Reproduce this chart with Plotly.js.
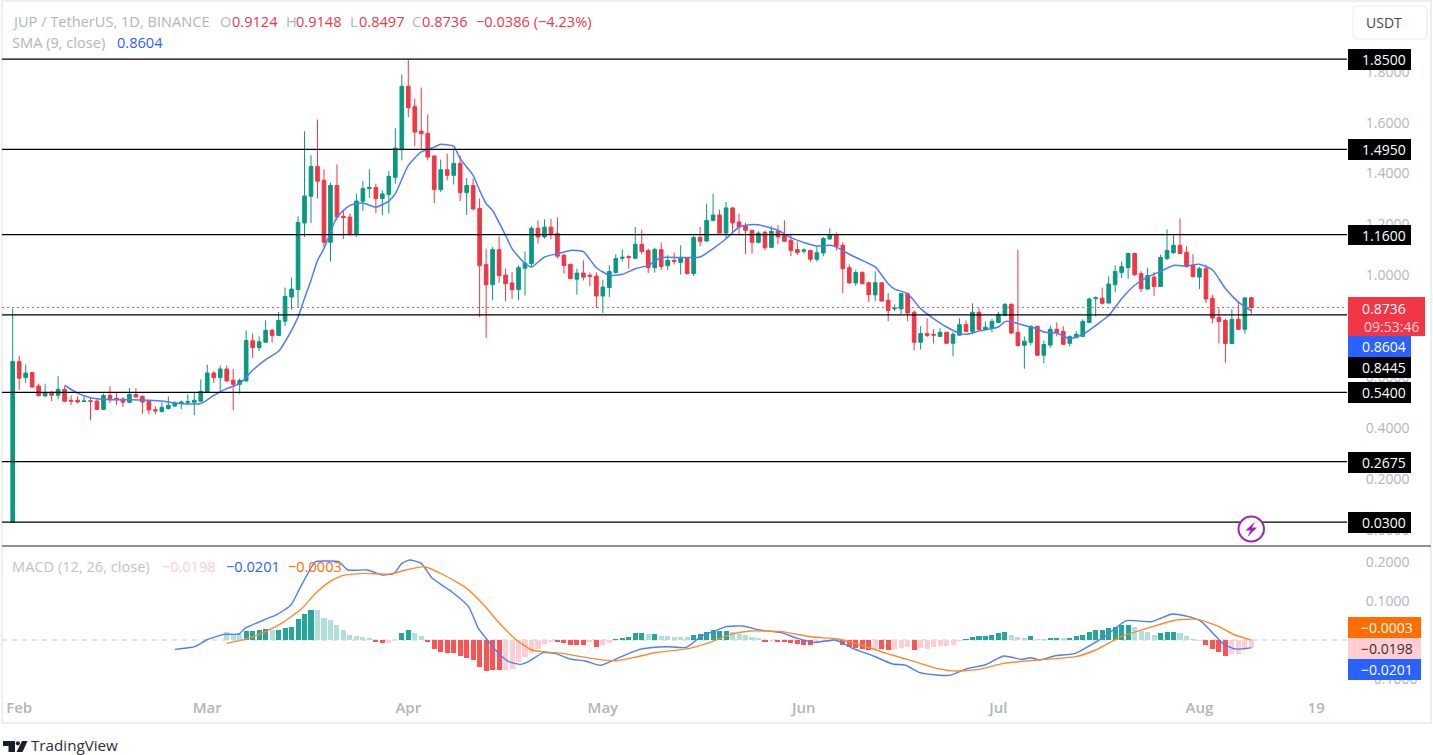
<!DOCTYPE html>
<html><head><meta charset="utf-8">
<script src="https://cdn.plot.ly/plotly-3.0.1.min.js"></script>
<style>html,body{margin:0;padding:0;background:#fff;overflow:hidden}#c{width:1433px;height:755px}</style>
</head><body><div id="c"></div>
<script>
const openP=[.03,.661,.598,.618,.565,.526,.540,.529,.552,.509,
.509,.504,.507,.506,.473,.528,.517,.514,.501,.532,
.524,.506,.472,.465,.477,.486,.497,.501,.501,.505,
.541,.616,.598,.632,.588,.572,.585,.743,.716,.737,
.784,.764,.820,.915,.944,1.206,1.311,1.428,1.373,1.130,
1.353,1.232,1.229,1.160,1.291,1.341,1.345,1.302,1.318,1.385,
1.494,1.743,1.663,1.567,1.558,1.469,1.337,1.415,1.393,1.440,
1.325,1.353,1.263,1.042,.963,1.101,1.001,.970,.944,1.028,
1.046,1.185,1.151,1.189,1.164,1.079,1.043,.985,1.009,1.000,
.997,.919,.952,1.011,1.067,1.074,1.067,1.122,1.098,1.030,
1.101,1.038,1.059,1.051,1.067,1.007,1.149,1.135,1.216,1.237,
1.166,1.265,1.210,1.195,1.177,1.130,1.169,1.110,1.173,1.156,
1.138,1.101,1.095,1.098,1.063,1.088,1.143,1.158,1.118,1.030,
.970,1.011,.971,.923,.971,.902,.868,.868,.928,.855,
.737,.771,.768,.760,.776,.733,.765,.807,.780,.855,
.787,.792,.815,.842,.886,.776,.725,.737,.800,.686,
.726,.788,.780,.733,.755,.760,.815,.908,.910,.891,
.963,1.011,1.030,1.086,1.007,.946,.993,.956,1.066,1.089,
1.118,1.090,1.040,.993,1.026,.910,.835,.823,.732,.827,
.788,.9124];
const closeP=[.661,.596,.616,.561,.527,.539,.529,.552,.505,.505,
.502,.506,.505,.473,.528,.511,.511,.501,.532,.522,
.502,.471,.467,.481,.489,.498,.502,.504,.509,.544,
.616,.598,.632,.585,.572,.587,.744,.716,.739,.784,
.764,.823,.917,.946,1.208,1.312,1.428,1.370,1.130,1.353,
1.229,1.227,1.160,1.292,1.341,1.346,1.302,1.320,1.389,1.500,
1.743,1.659,1.563,1.557,1.465,1.337,1.415,1.393,1.440,1.325,
1.353,1.261,1.038,.963,1.101,.999,.967,.944,1.030,1.048,
1.185,1.151,1.189,1.160,1.075,1.039,.987,1.009,.993,.996,
.919,.954,1.015,1.066,1.071,1.070,1.122,1.094,1.030,1.102,
1.035,1.059,1.055,1.067,1.007,1.149,1.134,1.216,1.237,1.166,
1.265,1.206,1.190,1.177,1.130,1.166,1.109,1.173,1.151,1.134,
1.098,1.090,1.100,1.063,1.089,1.145,1.158,1.114,1.026,.970,
1.011,.967,.924,.971,.899,.862,.871,.928,.852,.737,
.771,.764,.765,.776,.733,.768,.806,.779,.855,.787,
.796,.819,.847,.886,.773,.724,.741,.800,.686,.728,
.788,.776,.729,.759,.768,.819,.907,.912,.890,.966,
1.015,1.034,1.086,1.003,.948,.999,.956,1.070,1.098,1.118,
1.086,1.035,.995,1.026,.907,.832,.819,.732,.827,.788,
.911,.8736];
const highP=[.870,.684,.649,.620,.574,.574,.545,.604,.564,.528,
.524,.524,.519,.515,.535,.564,.537,.522,.557,.557,
.528,.509,.485,.502,.524,.506,.509,.532,.537,.591,
.649,.623,.645,.646,.632,.595,.784,.772,.760,.823,
.790,.856,.952,.991,1.232,1.566,1.472,1.612,1.417,1.364,
1.436,1.255,1.243,1.321,1.371,1.417,1.360,1.334,1.410,1.578,
1.790,1.848,1.695,1.738,1.632,1.472,1.455,1.478,1.494,1.470,
1.382,1.380,1.302,1.105,1.111,1.153,1.026,1.013,1.039,1.094,
1.193,1.216,1.220,1.221,1.228,1.085,1.046,1.026,1.059,1.011,
1.012,.983,1.039,1.083,1.101,1.079,1.190,1.180,1.105,1.109,
1.130,1.079,1.089,1.118,1.072,1.157,1.190,1.282,1.321,1.258,
1.288,1.268,1.243,1.206,1.180,1.173,1.177,1.193,1.197,1.216,
1.164,1.132,1.106,1.101,1.115,1.151,1.185,1.169,1.130,1.043,
1.022,1.016,.974,1.016,.972,.930,.886,.930,.933,.862,
.800,.832,.788,.792,.777,.777,.831,.823,.890,.870,
.819,.828,.857,.891,.890,1.101,.760,.803,.801,.744,
.803,.815,.800,.764,.780,.827,.912,.917,.952,.996,
1.039,1.054,1.089,1.089,1.016,1.030,1.013,1.081,1.181,1.157,
1.224,1.114,1.083,1.033,1.042,.923,.871,.830,.866,.898,
.9148,.9148];
const lowP=[.03,.549,.577,.560,.524,.523,.506,.513,.502,.490,
.496,.502,.430,.471,.471,.498,.490,.482,.498,.519,
.456,.454,.454,.461,.472,.485,.474,.493,.450,.502,
.540,.577,.545,.582,.469,.535,.582,.676,.702,.737,
.735,.761,.801,.865,.875,1.151,1.206,1.302,1.109,1.054,
1.216,1.143,1.157,1.151,1.253,1.304,1.245,1.236,1.243,1.360,
1.452,1.622,1.507,1.498,1.452,1.284,1.327,1.373,1.357,1.292,
1.237,1.255,.836,.754,.902,.971,.899,.908,.902,.921,
1.033,1.125,1.144,1.143,1.066,1.007,.985,.924,.980,.958,
.873,.852,.915,1.007,1.054,1.026,1.064,1.083,1.009,1.011,
1.022,1.022,1.043,1.003,1.004,.997,1.114,1.132,1.213,1.164,
1.145,1.164,1.157,1.083,1.085,1.125,1.098,1.109,1.122,1.132,
1.075,1.080,1.086,1.052,1.054,1.075,1.140,1.098,.930,.967,
.958,.965,.895,.899,.898,.820,.860,.847,.820,.705,
.708,.757,.732,.757,.732,.682,.763,.776,.768,.784,
.784,.776,.814,.839,.771,.721,.633,.725,.684,.655,
.716,.760,.728,.721,.754,.759,.812,.839,.885,.890,
.933,.989,.987,.997,.934,.944,.919,.954,1.059,1.085,
1.085,1.030,.993,.946,.891,.812,.732,.655,.730,.787,
.771,.8497];
const smaDay=[8,10,12,14,16,18,21,23,25,27,29,31,33,35,37,39,41,43,44,45,46,47,48,50,52,54,56,58,59,61,63,65,66,68,69,70,71,72,73,74,76,77,79,80,82,84,86,88,90,92,94,96,98,100,103,106,108,110,112,113,115,118,120,122,124,126,127,129,131,133,135,136,138,140,142,144,146,147,149,152,153,154,156,158,159,161,163,165,167,169,171,173,175,177,179,181,183,185,187,189,191];
const smaVal=[.568,.537,.519,.513,.511,.511,.509,.506,.498,.494,.496,.528,.555,.574,.627,.669,.702,.784,.836,.910,.981,1.059,1.105,1.229,1.275,1.284,1.268,1.292,1.321,1.432,1.485,1.504,1.515,1.507,1.459,1.426,1.393,1.334,1.282,1.255,1.157,1.105,1.046,1.033,1.072,1.085,1.098,1.093,1.030,1.000,1.004,1.026,1.039,1.070,1.070,1.072,1.105,1.144,1.190,1.197,1.199,1.177,1.148,1.129,1.115,1.118,1.111,1.083,1.059,1.033,.967,.946,.928,.869,.830,.797,.773,.768,.781,.797,.818,.818,.803,.790,.777,.773,.751,.768,.803,.842,.908,.961,.993,1.016,1.039,1.037,1.044,1.022,.948,.895,.8604];
const macdDay=[25,28.1,29.9,32.6,34.9,35.8,38.7,40.8,42.9,44.4,45.8,46.7,48.2,50.3,51.7,54.7,57,58.8,60,61.2,63,64.7,67.7,70.3,71.8,73,74.7,76.5,78.3,79.5,81.8,83.6,86,88.3,90.6,92.5,94.4,96.7,98.3,100.9,103.9,106.1,108,110,112.6,115.2,118.5,121,123.7,126.9,129.5,132.7,135.7,137.6,139.9,142.5,144.4,147.3,149.9,152.8,155.5,157,158.4,160.6,163.9,165.8,168.4,171.7,175.6,178.8,181.4,183.3,186.6,188.5,191];
const macdVal=[-.0239,-.0171,0,.0145,.0154,.0299,.0513,.0658,.0897,.1368,.1795,.2009,.2026,.2009,.1795,.1795,.1667,.1709,.1966,.2051,.1966,.1581,.1239,.0855,.0299,.0043,-.0299,-.0556,-.0624,-.0556,-.0325,-.0342,-.0487,-.0538,-.065,-.053,-.0385,-.0239,-.0197,-.0171,-.0188,.0085,.0214,.0342,.0359,.0256,.0188,.0043,-.006,0,-.0214,-.041,-.0615,-.0641,-.0838,-.0897,-.0906,-.0726,-.0641,-.041,-.0496,-.0453,-.0513,-.041,-.0342,-.0171,.0085,.0496,.047,.0667,.0598,.047,-.0085,-.0231,-.0201];
const signalDay=[33,35.8,38.7,41.7,44.6,46.7,48.7,50.8,54,58.2,60.6,63.5,66.5,70,72.4,75.3,77.7,80,81.8,84.8,87.7,90.6,93.1,95.7,99,104.2,107.4,110.7,113.9,118.5,123,127.2,130.8,134.7,138.6,142.5,145.4,149,152.8,158,163.9,167,170.9,174.9,179.4,182.7,186,188.5,191];
const signalVal=[-.0085,.0017,.0197,.0453,.0812,.1197,.1479,.165,.1709,.1692,.1795,.188,.1667,.1325,.094,.0385,0,-.0256,-.0299,-.0342,-.0427,-.0504,-.053,-.0453,-.0325,-.0222,-.0068,.0145,.0231,.0214,.0085,.0026,-.0128,-.0342,-.053,-.0726,-.0795,-.0752,-.0598,-.0513,-.0427,-.0256,.0085,.0299,.0513,.053,.0342,.0128,-.0003];
const histVal=[.0214,.0145,.0145,.0231,.0239,.0256,.0274,.0256,.0265,.0308,.0342,.0538,.0667,.0761,.0761,.0556,.0513,.0376,.0248,.0128,.0094,.0077,.0051,
-.0043,-.0068,-.0068,-.001,.0188,.0248,.0171,.0094,-.0043,-.0239,-.0299,-.0342,-.0342,-.041,-.047,-.0513,-.0684,-.0786,-.0769,-.0769,-.0769,-.0752,-.0556,-.0427,-.0325,-.0239,-.0103,-.0043,-.0043,-.0085,-.0137,-.0137,-.0137,-.0043,-.0171,
-.0128,-.0085,.0017,.0043,.0068,.0171,.0171,.0145,.0154,.0111,.0111,.0085,.0085,.0068,.012,.0154,.0214,.0248,.0239,.0231,.0205,.0154,.012,.0085,.0043,-.0043,-.0017,-.0043,-.0051,-.0085,-.0103,-.012,-.0137,-.0085,-.0043,-.0043,-.0043,-.0128,-.0171,-.0205,-.0222,-.0248,-.0231,-.0231,-.0248,-.0231,-.0197,-.0188,-.0248,-.0214,-.0222,-.0188,-.0145,-.0154,-.012,-.0017,.0017,.0085,.0094,.0094,.012,.0188,.0205,.0137,.0077,.006,.0094,.0017,.0017,.006,.006,.0051,.006,.0094,.012,.0214,.0256,.0256,.0299,.0342,.0376,.0393,.0342,.0239,.0214,.0128,.0188,.0205,.0205,.0171,.0103,.0034,-.0017,-.012,-.0239,-.0299,-.0402,-.0359,-.0359,-.0256,-.0198];
const histTone="LLLDDDDLDDDDDDLLLLLLLLLDDLLDDLLDDDDDDDDDDDDLLLLLLLLDDDDDLDLLDDDDDLDLLLLLDDDDDDLLLLLDLDDDDDDLLLLDDDDDLDDLLLDLLLLLLLDDDDDDDLLLDLLDDLDDDDDDDDDDLLLLDDDLLLLDDDDLLLL";
const histStart=33;
const levels=[1.85,1.495,1.16,.8445,.54,.2675,.03];
const levelLabels=["1.8500","1.4950","1.1600","0.8445","0.5400","0.2675","0.0300"];
const priceTicks=[1.8,1.6,1.4,1.2,1.0,.6,.4,.2,0];
const priceTickText=["1.8000","1.6000","1.4000","1.2000","1.0000","0.6000","0.4000","0.2000","0.0000"];
const macdTicks=[.2,.1,-.1];
const macdTickText=["0.2000","0.1000","−0.1000"];
const monthDays=[1,30,61,91,122,152,183,201];
const monthLabels=["Feb","Mar","Apr","May","Jun","Jul","Aug","19"];

const W=1433,H=755,FONT='"Open Sans", sans-serif';
const X=p=>p/W, Y=p=>1-p/H;
const GRAY='#b2b5be',GREEN='#089981',RED='#f23645',BLUE='#2962ff',ORANGE='#ff6d00';
const days=openP.map((_,i)=>i);
const traces=[
 {type:'candlestick',x:days,open:openP,high:highP,low:lowP,close:closeP,xaxis:'x',yaxis:'y',
  increasing:{line:{color:GREEN,width:1},fillcolor:GREEN},
  decreasing:{line:{color:RED,width:1},fillcolor:RED},whiskerwidth:0,hoverinfo:'skip'},
 {type:'scatter',mode:'lines',x:smaDay,y:smaVal,xaxis:'x',yaxis:'y',line:{color:'#4a7dff',width:1.5,shape:'spline',smoothing:.5},hoverinfo:'skip'},
 {type:'bar',x:histVal.map((_,k)=>histStart+k),y:histVal,xaxis:'x',yaxis:'y2',width:.78,
  marker:{color:histVal.map((v,k)=>v>=0?(histTone[k]==='D'?'#26a69a':'#b2dfdb'):(histTone[k]==='D'?'#ff5252':'#ffcdd2')),line:{width:0}},hoverinfo:'skip'},
 {type:'scatter',mode:'lines',x:macdDay,y:macdVal,xaxis:'x',yaxis:'y2',line:{color:'#4a7dff',width:1.4,shape:'spline',smoothing:.5},hoverinfo:'skip'},
 {type:'scatter',mode:'lines',x:signalDay,y:signalVal,xaxis:'x',yaxis:'y2',line:{color:'#ff8a2b',width:1.4,shape:'spline',smoothing:.5},hoverinfo:'skip'}
];
const rect=(x0,y0,x1,y1,fill,line,lw)=>({type:'rect',xref:'paper',yref:'paper',x0:X(x0),x1:X(x1),y0:Y(y0),y1:Y(y1),fillcolor:fill||'rgba(0,0,0,0)',line:{color:line||'rgba(0,0,0,0)',width:lw||0},layer:'above'});
const path=(pts,fill)=>({type:'path',xref:'paper',yref:'paper',path:'M'+pts.map(p=>X(p[0])+','+Y(p[1])).join('L')+'Z',fillcolor:fill,line:{width:0},layer:'above'});
const shapes=[
 rect(2,1,1431,723,null,'#eceef2',2),
 {type:'line',xref:'paper',yref:'paper',x0:X(2),x1:X(1431),y0:Y(546),y1:Y(546),line:{color:'#8f8f96',width:2},layer:'above'},
 {type:'line',xref:'paper',yref:'y',x0:X(2),x1:X(1347),y0:closeP[closeP.length-1],y1:closeP[closeP.length-1],line:{color:'#f7525f',width:1,dash:'2px 3px'},layer:'above'},
 {type:'line',xref:'paper',yref:'y2',x0:X(2),x1:X(1347),y0:0,y1:0,line:{color:'#c5c7cd',width:1,dash:'5px 5px'},layer:'below'}
];
levels.forEach(v=>shapes.push({type:'line',xref:'paper',yref:'y',x0:X(2),x1:X(1347),y0:v,y1:v,line:{color:'#000',width:1.2},layer:'above'}));
// price tags on the scale
const tagYs=[[49,70],[139,160],[225,245],[357,378],[382,403],[452,473],[512,533]];
tagYs.forEach(t=>shapes.push(rect(1348,t[0],1411,t[1],'#000')));
shapes.push(rect(1348,297,1425,336,RED));
shapes.push(rect(1348,336,1411,357,BLUE));
shapes.push(rect(1348,617,1421,638,ORANGE));
shapes.push(rect(1348,638,1421,659,'#ffcdd2'));
shapes.push(rect(1348,659,1421,680,BLUE));
// lightning badge
shapes.push({type:'circle',xref:'paper',yref:'paper',x0:X(1238.5),x1:X(1264),y0:Y(516.5),y1:Y(541.5),fillcolor:'#fff',line:{color:'#9c27b0',width:2},layer:'above'});
shapes.push(path([[1255,521.5],[1245.5,530.5],[1250.5,530.5],[1247.5,537],[1257,527.5],[1252,527.5]],'#9c27b0'));
// USDT button
shapes.push({type:'path',xref:'paper',yref:'paper',layer:'above',fillcolor:'#fff',line:{color:'#e6e8ee',width:1},
 path:`M${X(1357)},${Y(6)}L${X(1423)},${Y(6)}Q${X(1427)},${Y(6)} ${X(1427)},${Y(10)}L${X(1427)},${Y(35)}Q${X(1427)},${Y(39)} ${X(1423)},${Y(39)}L${X(1357)},${Y(39)}Q${X(1353)},${Y(39)} ${X(1353)},${Y(35)}L${X(1353)},${Y(10)}Q${X(1353)},${Y(6)} ${X(1357)},${Y(6)}Z`});
// TradingView mark
shapes.push(path([[3,741],[15,741],[15,752],[8.5,752],[8.5,746],[3,746]],'#1b1f2b'));
shapes.push({type:'circle',xref:'paper',yref:'paper',x0:X(15.8),x1:X(20),y0:Y(741.2),y1:Y(745.4),fillcolor:'#1b1f2b',line:{width:0},layer:'above'});
shapes.push(path([[22,741],[27.5,741],[22.5,752],[16.5,752]],'#1b1f2b'));

const LG=14.6;
const txt=(px,py,text,color,size,anchor)=>({xref:'paper',yref:'paper',x:X(px),y:Y(py),text,showarrow:false,xanchor:anchor||'left',yanchor:'middle',font:{family:FONT,size:size||LG,color},borderpad:0,borderwidth:0});
const annotations=[
 txt(12,21,'JUP / TetherUS, 1D, BINANCE',GRAY),
 txt(220,21,'O',GRAY),txt(232,21,'0.9124',RED),
 txt(286,21,'H',GRAY),txt(295.5,21,'0.9148',RED),
 txt(350,21,'L',GRAY),txt(359,21,'0.8497',RED),
 txt(412,21,'C',GRAY),txt(422,21,'0.8736',RED),
 txt(476,21,'−0.0386 (−4.23%)',RED),
 txt(12,42,'SMA (9, close)',GRAY),txt(117,42,'0.8604',BLUE),
 txt(12,566,'MACD (12, 26, close)','#c0c3ca'),txt(162,566,'−0.0198','#ffcdd2'),txt(226,566,'−0.0201',BLUE),txt(288,566,'−0.0003',ORANGE),
 txt(1384,22,'USDT','#434651',14,'center'),
 txt(31,744.6,'TradingView','#2a2e39',15.2)
];
levelLabels.forEach((t,k)=>annotations.push(txt(1406,(tagYs[k][0]+tagYs[k][1])/2,t,'#fff',14,'right')));
annotations.push(txt(1405.5,308,'0.8736','#fff',14,'right'));
annotations.push(txt(1419,326,'09:53:46','#ffd5da',14,'right'));
annotations.push(txt(1405.5,346.5,'0.8604','#fff',14,'right'));
annotations.push(txt(1413,627.5,'−0.0003','#fff',14,'right'));
annotations.push(txt(1413,648.5,'−0.0198','#333',14,'right'));
annotations.push(txt(1413,669.5,'−0.0201','#fff',14,'right'));

const layout={width:W,height:H,margin:{l:0,r:0,t:0,b:0,pad:0},paper_bgcolor:'#fff',plot_bgcolor:'#fff',showlegend:false,hovermode:false,bargap:0,boxgap:.2,
 xaxis:{domain:[X(2),X(1347)],range:[-1.65,205.75],anchor:'y2',showgrid:false,zeroline:false,showline:false,tickmode:'array',tickvals:monthDays,ticktext:monthLabels,
  ticks:'outside',ticklen:2,tickcolor:'rgba(0,0,0,0)',tickfont:{family:FONT,size:15,color:GRAY,weight:600},rangeslider:{visible:false},fixedrange:true},
 yaxis:{domain:[Y(546),Y(4)],range:[-.0638,2.0665],anchor:'x',side:'right',showgrid:false,zeroline:false,showline:false,tickmode:'array',tickvals:priceTicks,ticktext:priceTickText,
  ticks:'outside',ticklen:15,tickcolor:'rgba(0,0,0,0)',tickfont:{family:FONT,size:14,color:GRAY},fixedrange:true},
 yaxis2:{domain:[Y(692),Y(547)],range:[-.1333,.2385],anchor:'x',side:'right',showgrid:false,zeroline:false,showline:false,tickmode:'array',tickvals:macdTicks,ticktext:macdTickText,
  ticks:'outside',ticklen:15,tickcolor:'rgba(0,0,0,0)',tickfont:{family:FONT,size:14,color:GRAY},fixedrange:true},
 shapes,annotations};
Plotly.newPlot('c',traces,layout,{staticPlot:true,displayModeBar:false});
</script></body></html>
